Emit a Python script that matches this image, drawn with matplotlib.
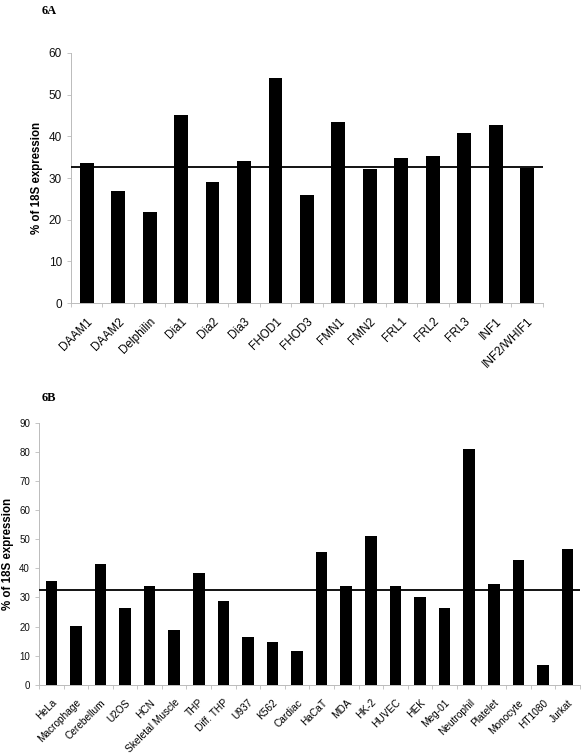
import numpy as np
import matplotlib
matplotlib.use("Agg")
import matplotlib.pyplot as plt
from matplotlib.ticker import FixedLocator

plt.rcParams['font.family'] = ['Liberation Sans', 'DejaVu Sans']

# Panel 6A - formins
formins = ['DAAM1', 'DAAM2', 'Delphilin', 'Dia1', 'Dia2', 'Dia3', 'FHOD1', 'FHOD3',
           'FMN1', 'FMN2', 'FRL1', 'FRL2', 'FRL3', 'INF1', 'INF2/WHIF1']
formin_vals = [33.5, 27.0, 21.9, 45.0, 29.1, 34.2, 54.0, 25.9,
               43.5, 32.2, 34.9, 35.3, 40.9, 42.6, 32.5]
formin_mean = 32.7

# Panel 6B - tissues / cell lines
tissues = ['HeLa', 'Macrophage', 'Cerebellum', 'U2OS', 'HCN', 'Skeletal Muscle', 'THP',
           'Diff. THP', 'U937', 'K562', 'Cardiac', 'HaCaT', 'MDA', 'HK-2', 'HUVEC', 'HEK',
           'Meg-01', 'Neutrophil', 'Platelet', 'Monocyte', 'HT1080', 'Jurkat']
tissue_vals = [35.8, 20.1, 41.5, 26.3, 34.1, 18.9, 38.4, 28.7, 16.5, 14.6, 11.8,
               45.6, 34.1, 51.1, 34.1, 30.1, 26.5, 81.1, 34.5, 42.8, 7.0, 46.7]
tissue_mean = 32.6


def bar_panel(ax, labels, vals, mean, ymax, ystep, xfs, yfs, bw):
    n = len(labels)
    x = np.arange(n)
    ax.bar(x, vals, width=bw, color='black', zorder=2)
    ax.set_xlim(-0.5, n - 0.5)
    ax.set_ylim(0, ymax)
    ax.axhline(mean, color='black', lw=1.3, zorder=3)
    ax.set_yticks(np.arange(0, ymax + 1, ystep))
    ax.set_xticks(x)
    ax.set_xticklabels(labels, rotation=45, ha='right', rotation_mode='anchor', fontsize=xfs)
    ax.xaxis.set_minor_locator(FixedLocator(np.arange(-0.5, n, 1)))
    ax.tick_params(axis='x', which='major', length=0, pad=9)
    ax.tick_params(axis='x', which='minor', length=3, color='#bbbbbb', width=0.6)
    ax.tick_params(axis='y', labelsize=yfs, length=3, color='#bbbbbb', width=0.6,
                   labelcolor='#111111')
    for s in ['top', 'right']:
        ax.spines[s].set_visible(False)
    for s in ['left', 'bottom']:
        ax.spines[s].set_color('#bbbbbb')
        ax.spines[s].set_linewidth(0.7)
    ax.set_ylabel('% of 18S expression', fontsize=8.3, fontweight='bold')


fig = plt.figure(figsize=(5.84, 7.56), dpi=100)

ax1 = fig.add_axes([0.1216, 0.599, 0.808, 0.331])
bar_panel(ax1, formins, formin_vals, formin_mean, 60, 10, 8.5, 8.5, 0.44)

ax2 = fig.add_axes([0.0668, 0.094, 0.926, 0.347])
bar_panel(ax2, tissues, tissue_vals, tissue_mean, 90, 10, 7.3, 7, 0.47)

fig.text(0.072, 0.993, '6A', fontsize=9, fontweight='bold', family='Liberation Serif', va='top')
fig.text(0.072, 0.481, '6B', fontsize=9, fontweight='bold', family='Liberation Serif', va='top')

fig.savefig('out.png', dpi=100)
